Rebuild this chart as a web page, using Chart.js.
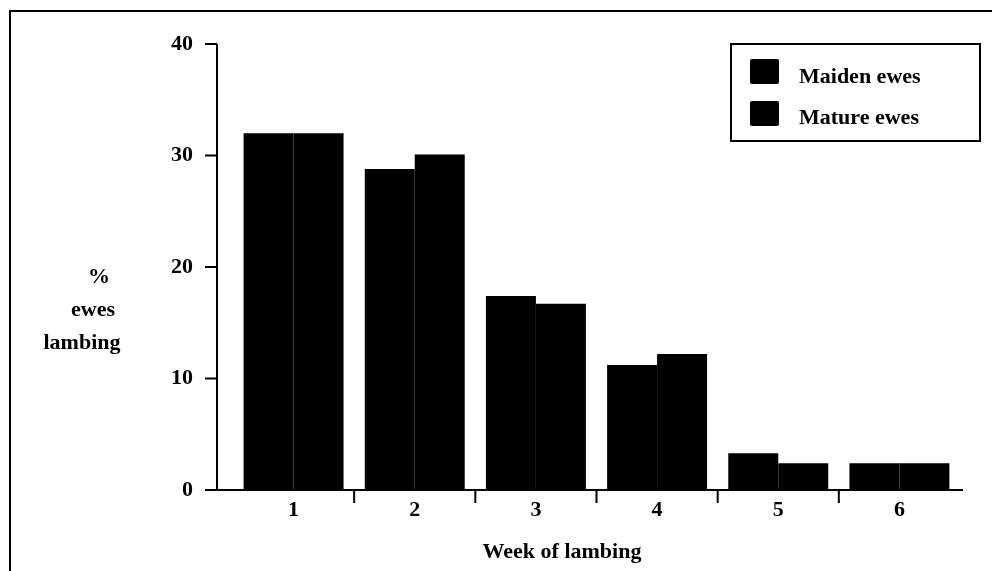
<!DOCTYPE html>
<html>
<head>
<meta charset="utf-8">
<script src="https://cdn.jsdelivr.net/npm/chart.js@4"></script>
<style>
    html, body { margin: 0; padding: 0; background: #fff; }
    #wrap { width: 992px; height: 571px; position: relative; }
</style>
</head>
<body>
<div id="wrap"><canvas id="lambingChart"></canvas></div>
<script>
const weeks = ["1", "2", "3", "4", "5", "6"];
const maidenEwes = [32, 28.8, 17.4, 11.2, 3.3, 2.4];
const matureEwes = [32, 30.1, 16.7, 12.2, 2.4, 2.4];
const seriesLabels = ["Maiden ewes", "Mature ewes"];
const yTitleLines = ["%", "ewes", "lambing"];
const xTitle = "Week of lambing";

const FONT = "bold 22px 'Liberation Serif', 'Times New Roman', serif";

// frame, axes, titles and legend box drawn by hand
const decorPlugin = {
    id: "decor",
    afterDraw(chart) {
        const ctx = chart.ctx;
        const x = chart.scales.x;
        const y = chart.scales.y;
        const area = chart.chartArea;
        const axisX = area.left - 16;
        const base = y.getPixelForValue(0);

        ctx.save();
        ctx.strokeStyle = "#000";
        ctx.fillStyle = "#000";

        // outer frame
        ctx.lineWidth = 2;
        ctx.strokeRect(10, 11, 1200, 1000);

        // y axis + ticks
        ctx.beginPath();
        ctx.moveTo(axisX, y.getPixelForValue(40));
        ctx.lineTo(axisX, base);
        y.ticks.forEach(t => {
            const py = y.getPixelForValue(t.value);
            ctx.moveTo(axisX - 12, py);
            ctx.lineTo(axisX, py);
        });
        // x axis + ticks between weeks
        ctx.moveTo(axisX - 12, base);
        ctx.lineTo(area.right + 3, base);
        for (let i = 1; i < weeks.length; i++) {
            const px = (x.getPixelForValue(i - 1) + x.getPixelForValue(i)) / 2;
            ctx.moveTo(px, base);
            ctx.lineTo(px, base + 13);
        }
        ctx.stroke();

        // titles
        ctx.font = FONT;
        ctx.textAlign = "center";
        ctx.textBaseline = "alphabetic";
        const yTitleX = [99, 93, 82];
        yTitleLines.forEach((line, i) => {
            ctx.fillText(line, yTitleX[i], 283 + i * 33);
        });
        ctx.fillText(xTitle, 562, 558);

        // legend
        ctx.lineWidth = 2;
        ctx.strokeRect(731, 44, 249, 97);
        ctx.textAlign = "left";
        chart.data.datasets.forEach((ds, i) => {
            ctx.fillStyle = ds.backgroundColor;
            ctx.beginPath();
            ctx.roundRect(750, 59 + i * 42, 29, 25, 2);
            ctx.fill();
            ctx.fillStyle = "#000";
            ctx.fillText(ds.label, 799, 83 + i * 41);
        });

        ctx.restore();
    }
};

new Chart(document.getElementById("lambingChart"), {
    type: "bar",
    data: {
        labels: weeks,
        datasets: [
            {
                label: seriesLabels[0],
                data: maidenEwes,
                backgroundColor: "#000",
                borderWidth: 0
            },
            {
                label: seriesLabels[1],
                data: matureEwes,
                backgroundColor: "#000",
                borderWidth: 0
            }
        ]
    },
    options: {
        responsive: true,
        maintainAspectRatio: false,
        animation: false,
        layout: {
            padding: { top: 44, right: 32, bottom: 0, left: 0 }
        },
        datasets: {
            bar: {
                categoryPercentage: 0.825,
                barPercentage: 1
            }
        },
        plugins: {
            legend: { display: false },
            tooltip: { enabled: false }
        },
        scales: {
            x: {
                grid: { display: false, drawTicks: false },
                border: { display: false },
                ticks: {
                    color: "#000",
                    padding: 7,
                    font: { family: "'Liberation Serif', serif", size: 22, weight: "bold" }
                },
                afterFit: s => { s.height = 81; s.paddingLeft = 0; s.paddingRight = 0; }
            },
            y: {
                min: 0,
                max: 40,
                grid: { display: false, drawTicks: false },
                border: { display: false },
                ticks: {
                    stepSize: 10,
                    color: "#000",
                    padding: 40,
                    font: { family: "'Liberation Serif', serif", size: 22, weight: "bold" }
                },
                afterFit: s => { s.width = 233; s.paddingTop = 0; s.paddingBottom = 0; }
            }
        }
    },
    plugins: [decorPlugin]
});
</script>
</body>
</html>
